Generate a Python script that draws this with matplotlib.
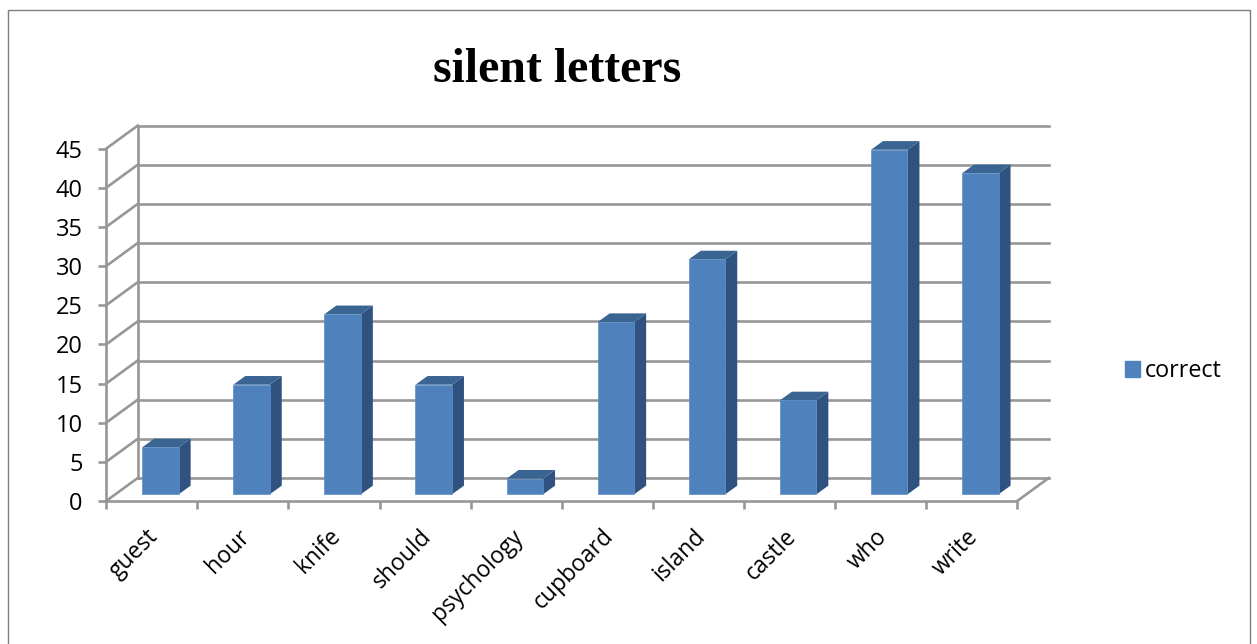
#!/usr/bin/env python3
"""Pseudo-3D column chart of correct answers for silent letter words."""

import matplotlib
matplotlib.use("Agg")
import matplotlib.pyplot as plt
from matplotlib.patches import Patch, Rectangle
import numpy as np

words = ["guest", "hour", "knife", "should", "psychology",
         "cupboard", "island", "castle", "who", "write"]
correct = [6, 14, 23, 14, 2, 22, 30, 12, 44, 41]
y_ticks = list(range(0, 50, 5))

W, H = 1257, 644
FRONT = "#4F81BD"
SIDE = "#2F5280"
TOP = "#3A6593"
GRID = "#979797"
LW = 1.9

# wall and floor depth, in data units
WALL_DX = 0.346
WALL_DY = 2.94
# column placement inside a category slot
BAR_LEFT = 0.395
BAR_W = 0.40
BAR_BASE = 0.85
BAR_DX = 0.132
BAR_DY = 1.11

fig = plt.figure(figsize=(W / 100, H / 100), dpi=100, facecolor="white")
ax = fig.add_axes([106.2 / W, 1 - 501 / H, 911 / W, 352.4 / H])
ax.set_xlim(0, len(words))
ax.set_ylim(0, 45)
ax.patch.set_visible(False)

# outer chart frame runs off the bottom of the figure
fig.add_artist(Rectangle((8 / W, -0.05), 1242 / W, 1.05 - 10 / H,
                         transform=fig.transFigure, facecolor="none",
                         edgecolor="#7f7f7f", linewidth=1.0))

# back wall, side wall and floor
for v in y_ticks:
    ax.plot([WALL_DX, len(words) + WALL_DX], [v + WALL_DY, v + WALL_DY],
            color=GRID, lw=LW, clip_on=False, zorder=1)
    ax.plot([0, WALL_DX], [v, v + WALL_DY],
            color=GRID, lw=LW, clip_on=False, zorder=1)
ax.plot([WALL_DX, WALL_DX], [WALL_DY, 45 + WALL_DY],
        color=GRID, lw=LW, clip_on=False, zorder=1)
ax.plot([len(words), len(words) + WALL_DX], [0, WALL_DY],
        color=GRID, lw=LW, clip_on=False, zorder=1)

# columns: front face from ax.bar, then side and top faces
x_left = np.arange(len(words)) + BAR_LEFT
ax.bar(x_left, correct, width=BAR_W, bottom=BAR_BASE, align="edge",
       color=FRONT, edgecolor="#5F8FC8", linewidth=0.5, zorder=4)
for x0, val in zip(x_left, correct):
    x1 = x0 + BAR_W
    top = BAR_BASE + val
    ax.fill([x1, x1 + BAR_DX, x1 + BAR_DX, x1],
            [BAR_BASE, BAR_BASE + BAR_DY, top + BAR_DY, top],
            color=SIDE, lw=0, zorder=3, clip_on=False)
    ax.fill([x0, x0 + BAR_DX, x1 + BAR_DX, x1],
            [top, top + BAR_DY, top + BAR_DY, top],
            color=TOP, lw=0, zorder=3, clip_on=False)

# axes and tick labels
for name in ("top", "right"):
    ax.spines[name].set_visible(False)
for name in ("left", "bottom"):
    ax.spines[name].set_color(GRID)
    ax.spines[name].set_linewidth(LW)

ax.set_yticks(y_ticks)
ax.set_xticks(np.arange(len(words) + 1))
ax.set_xticklabels([])
ax.set_xticks(np.arange(len(words)) + 0.44, minor=True)
ax.set_xticklabels(words, minor=True, rotation=45, ha="right",
                   rotation_mode="anchor", family="Open Sans", fontsize=16.5)
ax.tick_params(axis="x", which="major", length=6, width=LW, color=GRID)
ax.tick_params(axis="x", which="minor", length=0, pad=17)
ax.tick_params(axis="y", length=6, width=LW, color=GRID, pad=11)
for label in ax.get_yticklabels():
    label.set_family("Open Sans")
    label.set_fontsize(17)

fig.text(557.5 / W, 1 - 70 / H, "silent letters", family="Liberation Serif",
         fontweight="bold", fontsize=34.5, ha="center", va="center")

ax.legend(handles=[Patch(color=FRONT, label="correct")], frameon=False,
          loc="center left", bbox_to_anchor=(1104 / W, 1 - 371 / H),
          bbox_transform=fig.transFigure, prop={"family": "Open Sans", "size": 16.8},
          handlelength=0.64, handleheight=0.64, handletextpad=0.2)

fig.savefig("out.png", dpi=100)
